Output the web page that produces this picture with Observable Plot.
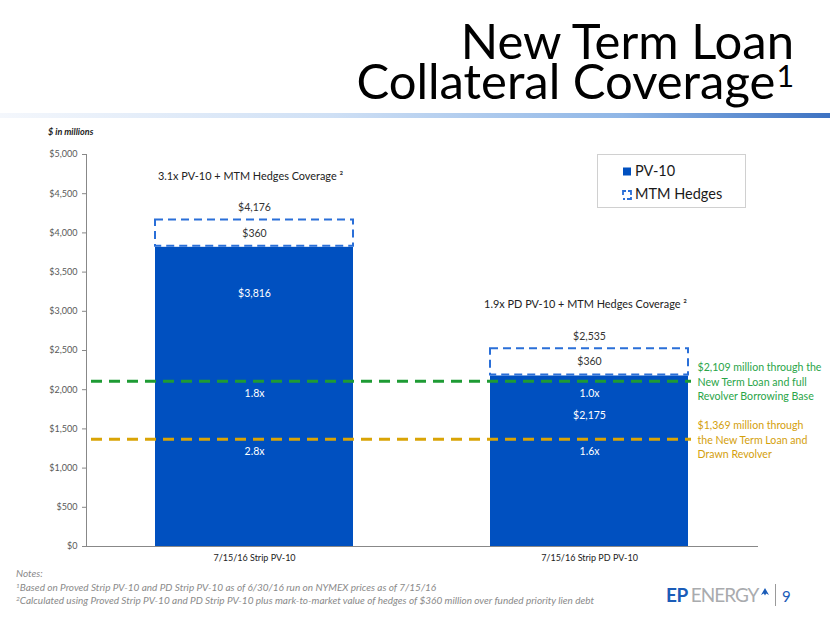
<!DOCTYPE html>
<html>
<head>
<meta charset="utf-8">
<script src="https://cdn.jsdelivr.net/npm/d3@7"></script>
<script src="https://cdn.jsdelivr.net/npm/@observablehq/plot@0.6"></script>
<style>
  html, body { margin: 0; padding: 0; background: #fff; }
  body { width: 830px; height: 623px; position: relative; overflow: hidden; font-family: Lato, "Open Sans", sans-serif; }
  #chart { position: absolute; left: 0; top: 0; }
  .abs { position: absolute; white-space: nowrap; line-height: 1; }
  .title { right: 36px; font-size: 49px; color: #000; line-height: 0.8; }
  .title sup { font-size: 0.62em; vertical-align: 0.4em; line-height: 0; margin-left: 1px; }
  #rule { position: absolute; left: 0; top: 113px; width: 830px; height: 5px;
          background: linear-gradient(to right, #f4f7fc 0%, #cfe0f5 40%, #8fb6e6 75%, #3d72c2 100%); }
  #units { left: 48px; top: 127px; font-size: 9px; font-weight: bold; font-style: italic; color: #222; }
  #legend { position: absolute; left: 597px; top: 154px; width: 147px; height: 52px; border: 1px solid #d0d0d0; background: #fff; }
  .lg { position: absolute; left: 37px; font-size: 14.5px; color: #1a1a1a; line-height: 1; }
  .notes { left: 16px; font-size: 10px; font-style: italic; color: #8a8a8a; }
  .notes sup { font-size: 0.65em; vertical-align: 0.5em; line-height: 0; }
  #logo { left: 666px; top: 585px; font-size: 19px; }
</style>
</head>
<body>
<div id="chart"></div>
<div class="abs title" style="top:21px">New Term Loan</div>
<div class="abs title" style="top:61px">Collateral Coverage<sup>1</sup></div>
<div id="rule"></div>
<div class="abs" id="units">$ in millions</div>
<div id="legend">
  <svg width="147" height="52" style="position:absolute;left:0;top:0">
    <rect x="25" y="12.5" width="8" height="8" fill="#0050c0"></rect>
    <path d="M25,40 V36 H28 M30,36 H33 V40 M33,42 V44 H29 M27,44 H25" fill="none" stroke="#2a6fd8" stroke-width="1.8"></path>
  </svg>
  <div class="lg" style="top:9px">PV-10</div>
  <div class="lg" style="top:32px">MTM Hedges</div>
</div>
<div class="abs notes" style="top:568px">Notes:</div>
<div class="abs notes" style="top:582px"><sup>1</sup>Based on Proved Strip PV-10 and PD Strip PV-10 as of 6/30/16 run on NYMEX prices as of 7/15/16</div>
<div class="abs notes" style="top:595px"><sup>2</sup>Calculated using Proved Strip PV-10 and PD Strip PV-10 plus mark-to-market value of hedges of $360 million over funded priority lien debt</div>
<div class="abs" id="logo"><span style="color:#1b5cb8;font-weight:bold;letter-spacing:-0.5px">EP</span><span style="color:#a9abae;letter-spacing:-1px;margin-left:3px">ENERGY</span><svg width="10" height="10" style="vertical-align:5px;margin-left:2px"><path d="M5,1 L9,8 L6.2,6.5 L5,8.5 L3.8,6.5 L1,8 Z" fill="#1b5cb8"></path></svg></div>
<div class="abs" style="left:775px;top:584px;width:1px;height:22px;background:#9a9a9a"></div>
<div class="abs" style="left:782px;top:589px;font-size:15px;color:#1b5cb8">9</div>

<script>
// ---- data ----
const categories = ["7/15/16 Strip PV-10", "7/15/16 Strip PD PV-10"];
const pv10 = [3816, 2175];
const mtmHedges = [360, 360];
const totals = [4176, 2535];
const coverageTitles = ["3.1x PV-10 + MTM Hedges Coverage \u00B2", "1.9x PD PV-10 + MTM Hedges Coverage \u00B2"];
const thresholds = [2109, 1369];
const thresholdLabels = [
  "$2,109 million through the\nNew Term Loan and full\nRevolver Borrowing Base",
  "$1,369 million through\nthe New Term Loan and\nDrawn Revolver"
];
const greenRatios = ["1.8x", "1.0x"];
const goldRatios = ["2.8x", "1.6x"];
const yTicks = [0, 500, 1000, 1500, 2000, 2500, 3000, 3500, 4000, 4500, 5000];

// ---- derived table ----
const rows = categories.map((c, i) => ({
  cat: c, pv: pv10[i], mtm: mtmHedges[i], total: totals[i],
  title: coverageTitles[i], g: greenRatios[i], o: goldRatios[i]
}));
const fmt = d => "$" + d3.format(",")(d);

const GREEN = "#1e9b34", GOLD = "#d9a406", BLUE = "#0050c0";

const chart = Plot.plot({
  width: 830, height: 623,
  marginLeft: 86, marginRight: 73, marginTop: 154, marginBottom: 77,
  style: { fontFamily: "Lato, 'Open Sans', sans-serif", background: "transparent", overflow: "visible" },
  x: { domain: categories, paddingInner: 0.41, paddingOuter: 0.205, label: null },
  y: { domain: [0, 5000], label: null },
  marks: [
    Plot.axisY({ ticks: yTicks, tickFormat: fmt, tickSize: 4, tickPadding: 5, fontSize: 9, color: "#595959", stroke: "#888" }),
    Plot.axisX({ tickSize: 0, tickPadding: 8, fontSize: 9, color: "#222" }),
    Plot.barY(rows, { x: "cat", y: "pv", fill: BLUE }),
    Plot.barY(rows, { x: "cat", y1: "pv", y2: d => d.pv + d.mtm, fill: "white", stroke: "#2a6fd8", strokeWidth: 2, strokeDasharray: "8,5", insetTop: 1, insetBottom: 1 }),
    Plot.frame({ anchor: "left", stroke: "#888" }),
    Plot.frame({ anchor: "bottom", stroke: "#888" }),
    Plot.ruleY([thresholds[0]], { stroke: GREEN, strokeWidth: 3, strokeDasharray: "11,7", insetLeft: 5, insetRight: 66 }),
    Plot.ruleY([thresholds[1]], { stroke: GOLD, strokeWidth: 3, strokeDasharray: "11,7", insetLeft: 5, insetRight: 66 }),
    Plot.text(rows, { x: "cat", y: "total", text: d => fmt(d.total), dy: -11, fontSize: 10.5, fill: "#333" }),
    Plot.text(rows, { x: "cat", y: d => d.pv + d.mtm / 2, text: d => fmt(d.mtm), fontSize: 10.5, fill: "#333" }),
    Plot.text(rows, { x: "cat", y: "total", text: "title", dy: -43, dx: -4, fontSize: 10.9, fill: "#222" }),
    Plot.text(rows.slice(0, 1), { x: "cat", y: "pv", text: d => fmt(d.pv), dy: 46, fontSize: 10.5, fill: "white" }),
    Plot.text(rows.slice(1), { x: "cat", y: "pv", text: d => fmt(d.pv), dy: 40, fontSize: 10.5, fill: "white" }),
    Plot.text(rows, { x: "cat", y: () => thresholds[0], text: "g", dy: 12, fontSize: 10.5, fill: "white" }),
    Plot.text(rows, { x: "cat", y: () => thresholds[1], text: "o", dy: 12, fontSize: 10.5, fill: "white" }),
    Plot.text([thresholds[0]], { x: () => categories[1], y: d => d, text: () => thresholdLabels[0], dx: 108, textAnchor: "start", lineAnchor: "middle", lineHeight: 1.37, fontSize: 10.6, fill: "#2aa548" }),
    Plot.text([thresholds[1]], { x: () => categories[1], y: d => d, text: () => thresholdLabels[1], dx: 108, textAnchor: "start", lineAnchor: "middle", lineHeight: 1.37, fontSize: 10.6, fill: "#d4a00c" })
  ]
});
document.getElementById("chart").appendChild(chart);
</script>
</body>
</html>
